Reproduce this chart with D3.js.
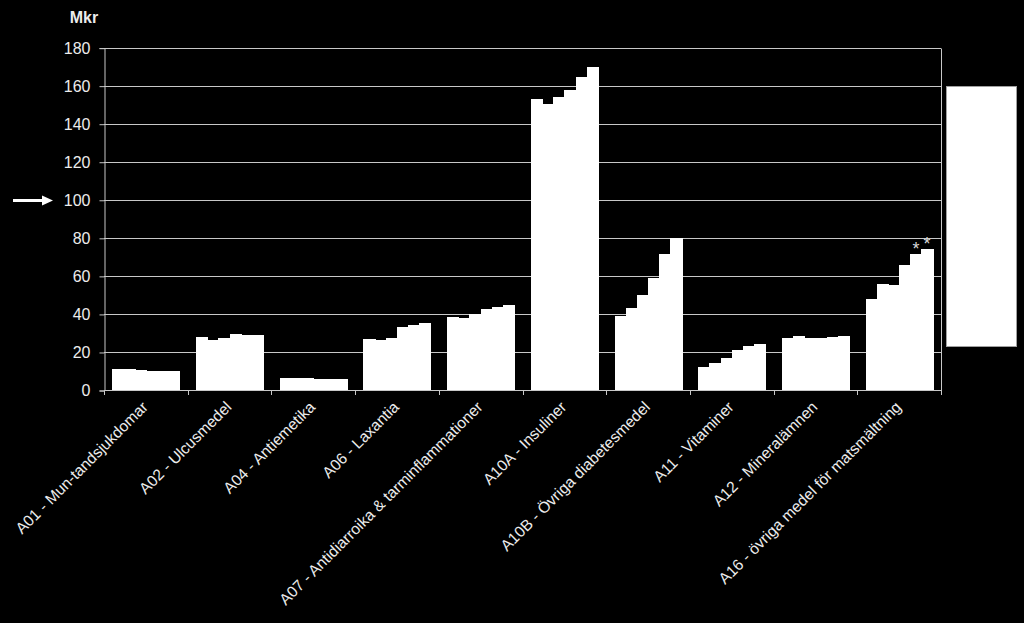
<!DOCTYPE html>
<html>
<head>
<meta charset="utf-8">
<script src="https://cdn.jsdelivr.net/npm/d3@7"></script>
<style>
html, body { margin: 0; padding: 0; background: #000; }
svg { display: block; }
text { font-family: "Liberation Sans", Arial, sans-serif; }
</style>
</head>
<body>
<svg id="chart" width="1024" height="623"></svg>
<script>
// ---- data (Mkr) ----
const categories = [
  "A01 - Mun-tandsjukdomar",
  "A02 - Ulcusmedel",
  "A04 - Antiemetika",
  "A06 - Laxantia",
  "A07 - Antidiarroika & tarminflammationer",
  "A10A - Insuliner",
  "A10B - Övriga diabetesmedel",
  "A11 - Vitaminer",
  "A12 - Mineralämnen",
  "A16 - övriga medel för matsmältning"
];
const seriesNames = ["s1", "s2", "s3", "s4", "s5", "s6"];
const s1 = [11.0, 28.1, 6.2, 26.8, 38.4, 153.2, 38.8, 12.2, 27.1, 48.0];
const s2 = [10.9, 26.3, 6.2, 26.3, 38.1, 150.2, 43.3, 14.3, 28.5, 55.5];
const s3 = [10.4, 27.2, 6.1, 27.5, 39.8, 154.2, 50.1, 16.6, 27.4, 55.2];
const s4 = [10.0, 29.5, 5.6, 33.0, 42.8, 157.7, 58.9, 21.0, 27.1, 65.7];
const s5 = [10.0, 28.8, 5.7, 34.2, 43.7, 164.5, 71.4, 23.2, 27.8, 71.4];
const s6 = [10.0, 29.1, 5.7, 35.1, 44.5, 169.8, 79.8, 24.3, 28.5, 74.1];
const yTicks = [0, 20, 40, 60, 80, 100, 120, 140, 160, 180];
const yLabel = "Mkr";
const markedValue = 100;
// asterisk notes: [category index, series index]
const notes = [[9, 4], [9, 5]];

const seriesValues = [s1, s2, s3, s4, s5, s6];
const rows = [];
categories.forEach((c, ci) => seriesValues.forEach((arr, si) => rows.push({cat: c, ser: seriesNames[si], v: arr[ci]})));

// ---- layout ----
const svg = d3.select("#chart");
const L = 104, R = 941, T = 47.6, B = 390;
const grid = "#c8c8c8", txt = "#ececec";

const x0 = d3.scaleBand().domain(categories).range([L, R]).paddingInner(0.2).paddingOuter(0.1);
const x1 = d3.scaleBand().domain(seriesNames).range([0, x0.bandwidth()]).padding(0);
const y = d3.scaleLinear().domain([0, 180]).range([B, T]);

// gridlines
svg.append("g").selectAll("line").data(yTicks.filter(t => t > 0)).join("line")
  .attr("x1", L).attr("x2", R)
  .attr("y1", d => Math.round(y(d)) + 0.5).attr("y2", d => Math.round(y(d)) + 0.5)
  .attr("stroke", grid).attr("stroke-width", 1);

// right border
svg.append("line").attr("x1", R + 0.5).attr("x2", R + 0.5).attr("y1", Math.round(y(180)) + 0.5).attr("y2", B + 5)
  .attr("stroke", grid);

// bars (snapped to whole pixels so neighbours join without seams)
const bx = d => Math.round(x0(d.cat) + x1(d.ser));
const bw = d => Math.round(x0(d.cat) + x1(d.ser) + x1.bandwidth()) - bx(d) + 1;
svg.append("g").attr("shape-rendering", "crispEdges").selectAll("rect").data(rows).join("rect")
  .attr("x", bx)
  .attr("width", bw)
  .attr("y", d => Math.round(y(d.v)))
  .attr("height", d => B - Math.round(y(d.v)))
  .attr("fill", "#ffffff");

// y axis
const yAxis = d3.axisLeft(y).tickValues(yTicks).tickSize(5).tickPadding(9).tickFormat(d3.format("d"));
const gy = svg.append("g").attr("transform", `translate(${L + 0.5},0.5)`).call(yAxis);
gy.select(".domain").attr("stroke", grid);
gy.selectAll(".tick line").attr("stroke", grid);
gy.selectAll(".tick text").attr("fill", txt).style("font-size", "16px").style("font-family", "'Liberation Sans', Arial, sans-serif");

// x axis: ticks at category boundaries
const bounds = d3.range(categories.length + 1).map(i => L + i * x0.step());
svg.append("line").attr("x1", L).attr("x2", R + 1).attr("y1", B + 0.5).attr("y2", B + 0.5).attr("stroke", grid);
svg.append("g").selectAll("line").data(bounds).join("line")
  .attr("x1", d => Math.round(d) + 0.5).attr("x2", d => Math.round(d) + 0.5)
  .attr("y1", B).attr("y2", B + 5).attr("stroke", grid);

// x labels
svg.append("g").selectAll("text").data(categories).join("text")
  .attr("transform", d => `translate(${x0(d) + x0.bandwidth() / 2 + 3},${B + 18}) rotate(-45)`)
  .attr("text-anchor", "end")
  .attr("fill", txt)
  .style("font-size", "15.6px")
  .text(d => d);

// y unit label
svg.append("text").attr("x", 84).attr("y", 23).attr("text-anchor", "middle")
  .attr("fill", txt).style("font-size", "16px").style("font-weight", "bold").text(yLabel);

// arrow marking 100
const ay = Math.round(y(markedValue)) + 0.5;
svg.append("line").attr("x1", 13).attr("x2", 44).attr("y1", ay).attr("y2", ay)
  .attr("stroke", "#fff").attr("stroke-width", 3);
svg.append("path").attr("d", `M42,${ay - 5}L53,${ay}L42,${ay + 5}Z`).attr("fill", "#fff");

// asterisks
svg.append("g").selectAll("text").data(notes).join("text")
  .attr("x", d => x0(categories[d[0]]) + x1(seriesNames[d[1]]) + x1.bandwidth() / 2)
  .attr("y", d => y(seriesValues[d[1]][d[0]]) + 1)
  .attr("text-anchor", "middle").attr("fill", "#d8d8d8").style("font-size", "18px").text("*");

// legend box (blank)
svg.append("rect").attr("x", 946.5).attr("y", 86.5).attr("width", 70).attr("height", 260)
  .attr("fill", "#ffffff").attr("stroke", "#a0a0a0");
</script>
</body>
</html>
